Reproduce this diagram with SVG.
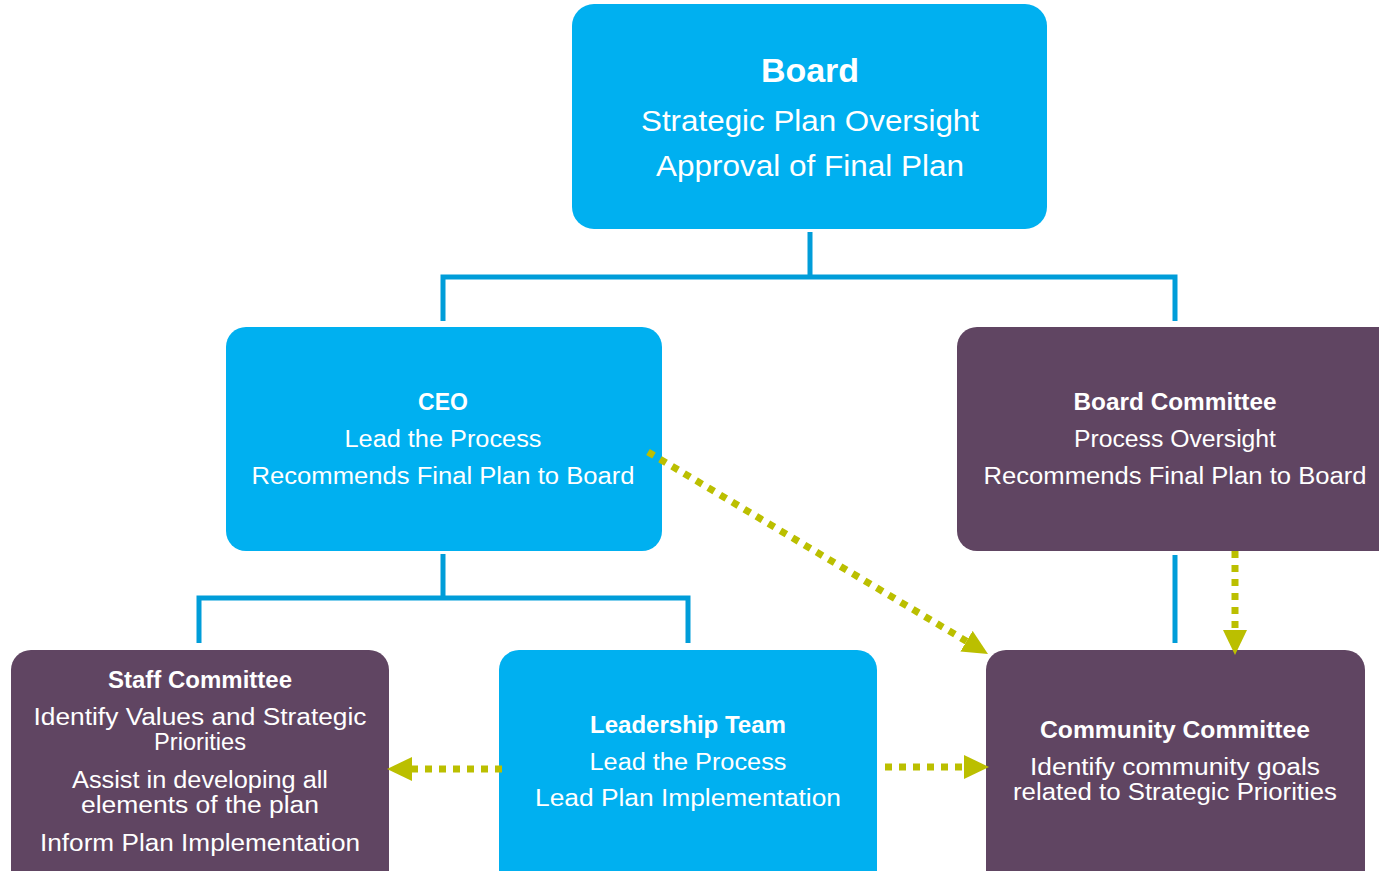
<svg xmlns="http://www.w3.org/2000/svg" width="1379" height="871" viewBox="0 0 1379 871">
  <style>
    .blue { fill: #00B0F0; }
    .plum { fill: #604562; }
    .t { font-family: "Liberation Sans", Arial, sans-serif; fill: #FFFFFF; text-anchor: middle; }
    .b { font-weight: bold; }
    .tree { fill: none; stroke: #009DD9; stroke-width: 5; stroke-linejoin: miter; }
    .dot { fill: none; stroke: #BBBF00; stroke-width: 7; stroke-dasharray: 7 7; }
  </style>
  <defs>
    <!-- arrowhead sits beyond the line end: base at the path end, tip 25px further -->
    <marker id="arrow" viewBox="0 0 10 10" refX="0" refY="5" markerWidth="25" markerHeight="24" markerUnits="userSpaceOnUse" orient="auto" preserveAspectRatio="none">
      <path d="M0,0 L10,5 L0,10 Z" fill="#BBBF00"/>
    </marker>
  </defs>

  <g id="board">
    <rect class="blue" x="572" y="4" width="475" height="225" rx="22"/>
    <text class="t b" x="810" y="82" font-size="34">Board</text>
    <text class="t" x="810" y="131" font-size="30" textLength="338" lengthAdjust="spacingAndGlyphs">Strategic Plan Oversight</text>
    <text class="t" x="810" y="176" font-size="30" textLength="308" lengthAdjust="spacingAndGlyphs">Approval of Final Plan</text>
  </g>

  <g id="ceo">
    <rect class="blue" x="226" y="327" width="436" height="224" rx="20"/>
    <text class="t b" x="443" y="410" font-size="23">CEO</text>
    <text class="t" x="443" y="447" font-size="23" textLength="197" lengthAdjust="spacingAndGlyphs">Lead the Process</text>
    <text class="t" x="443" y="484" font-size="23" textLength="383" lengthAdjust="spacingAndGlyphs">Recommends Final Plan to Board</text>
  </g>

  <g id="board-committee">
    <rect class="plum" x="957" y="327" width="440" height="224" rx="20"/>
    <text class="t b" x="1175" y="410" font-size="23" textLength="203" lengthAdjust="spacingAndGlyphs">Board Committee</text>
    <text class="t" x="1175" y="447" font-size="23" textLength="202" lengthAdjust="spacingAndGlyphs">Process Oversight</text>
    <text class="t" x="1175" y="484" font-size="23" textLength="383" lengthAdjust="spacingAndGlyphs">Recommends Final Plan to Board</text>
  </g>

  <g id="staff-committee">
    <rect class="plum" x="11" y="650" width="378" height="240" rx="20"/>
    <text class="t b" x="200" y="688" font-size="23" textLength="184" lengthAdjust="spacingAndGlyphs">Staff Committee</text>
    <text class="t" x="200" y="725" font-size="23" textLength="333" lengthAdjust="spacingAndGlyphs">Identify Values and Strategic</text>
    <text class="t" x="200" y="750" font-size="23" textLength="92" lengthAdjust="spacingAndGlyphs">Priorities</text>
    <text class="t" x="200" y="788" font-size="23" textLength="256" lengthAdjust="spacingAndGlyphs">Assist in developing all</text>
    <text class="t" x="200" y="813" font-size="23" textLength="238" lengthAdjust="spacingAndGlyphs">elements of the plan</text>
    <text class="t" x="200" y="851" font-size="23" textLength="320" lengthAdjust="spacingAndGlyphs">Inform Plan Implementation</text>
  </g>

  <g id="leadership-team">
    <rect class="blue" x="499" y="650" width="378" height="240" rx="20"/>
    <text class="t b" x="688" y="733" font-size="23" textLength="196" lengthAdjust="spacingAndGlyphs">Leadership Team</text>
    <text class="t" x="688" y="770" font-size="23" textLength="197" lengthAdjust="spacingAndGlyphs">Lead the Process</text>
    <text class="t" x="688" y="806" font-size="23" textLength="306" lengthAdjust="spacingAndGlyphs">Lead Plan Implementation</text>
  </g>

  <g id="community-committee">
    <rect class="plum" x="986" y="650" width="379" height="240" rx="20"/>
    <text class="t b" x="1175" y="738" font-size="23" textLength="270" lengthAdjust="spacingAndGlyphs">Community Committee</text>
    <text class="t" x="1175" y="775" font-size="23" textLength="290" lengthAdjust="spacingAndGlyphs">Identify community goals</text>
    <text class="t" x="1175" y="800" font-size="23" textLength="324" lengthAdjust="spacingAndGlyphs">related to Strategic Priorities</text>
  </g>

  <!-- hierarchy lines and dotted links, drawn over the boxes -->
  <g id="connectors">
    <path class="tree" d="M810,232 V277 M443,321 V277 H1175 V321"/>
    <path class="tree" d="M443,554 V598 M199,643 V598 H688 V643"/>
    <path class="tree" d="M1175,555 V643"/>
    <path class="dot" d="M648,452 L966.5,641.2" marker-end="url(#arrow)"/>
    <path class="dot" d="M1235,551 V630" marker-end="url(#arrow)"/>
    <path class="dot" d="M502,769 H412" marker-end="url(#arrow)"/>
    <path class="dot" d="M885,767 H964" marker-end="url(#arrow)"/>
  </g>
</svg>
